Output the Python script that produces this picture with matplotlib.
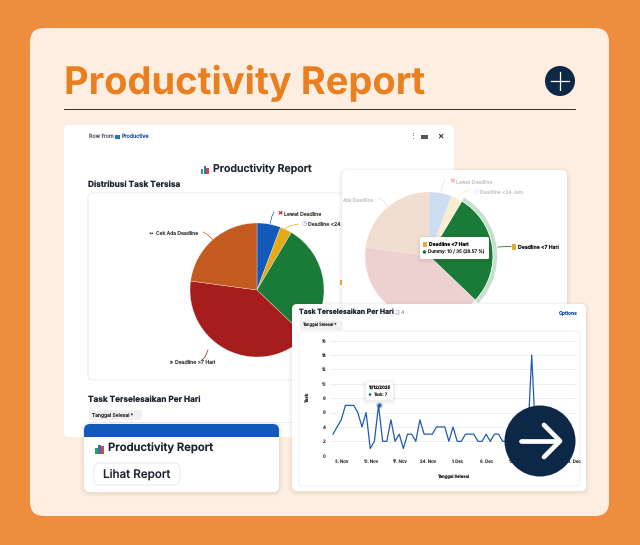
import matplotlib
matplotlib.use("Agg")
import matplotlib.pyplot as plt
import pandas as pd
from matplotlib.patches import FancyBboxPatch, Circle, Rectangle

plt.rcParams['font.family'] = ['Inter', 'DejaVu Sans']
plt.rcParams['text.hinting'] = 'no_hinting'

W, H = 640, 545
ORANGE_BG = '#ee8d3d'
CREAM = '#fdeee1'
TITLE = '#ea7f20'
NAVY = '#0d2747'
INK = '#1c2430'
GREY = '#5f6670'

pie_labels = ['Lewat Deadline', 'Deadline <24 Jam', 'Deadline <7 Hari', 'Deadline >7 Hari', 'Cek Ada Deadline']
pie_values = [2, 1, 10, 14, 8]
pie_colors = ['#1259b9', '#e3a917', '#1a7a37', '#a71c1c', '#c25b1d']

task_values = [3, 4, 5, 7, 7, 7, 6, 4, 6, 1, 2, 7, 2, 2, 5, 2, 3, 1, 3, 3, 2, 5, 3, 3, 3, 4, 4, 4,
               2, 4, 2, 2, 3, 3, 3, 2, 2, 3, 2, 3, 3, 2, 2, 2, 2, 2, 2, 2, 14, 2, 2, 1, 2, 2, 1, 2, 2, 1, 2]
task_dates = pd.date_range('2025-11-01', periods=len(task_values))
x_tick_dates = pd.date_range('2025-11-03', periods=9, freq='7D')
x_tick_labels = ['3. Nov', '10. Nov', '17. Nov', '24. Nov', '1. Dec', '8. Dec', '15. Dec', '22. Dec', '29. Dec']
y_ticks = [0, 2, 4, 6, 8, 10, 12, 14, 16]

fig = plt.figure(figsize=(W / 100, H / 100), dpi=100, facecolor=ORANGE_BG)


def layer(z):
    ax = fig.add_axes([0, 0, 1, 1], zorder=z)
    ax.set_xlim(0, W)
    ax.set_ylim(H, 0)
    ax.axis('off')
    return ax


def inset(x0, y0, x1, y1, z):
    return fig.add_axes([x0 / W, 1 - y1 / H, (x1 - x0) / W, (y1 - y0) / H], zorder=z)


def box(ax, x0, y0, x1, y1, r=6, fc='white', ec='none', lw=0.0, shadow=True, z=1):
    if shadow:
        for g, a in ((4, .012), (3, .016), (2, .02), (1, .025)):
            ax.add_patch(FancyBboxPatch((x0 - g, y0 - g + 1), x1 - x0 + 2 * g, y1 - y0 + 2 * g,
                                        boxstyle=f'round,pad=0,rounding_size={r + g}',
                                        fc='#503010', ec='none', alpha=a, zorder=z))
    ax.add_patch(FancyBboxPatch((x0, y0), x1 - x0, y1 - y0, boxstyle=f'round,pad=0,rounding_size={r}',
                                fc=fc, ec=ec, lw=lw, zorder=z + .1))


def chart_icon(ax, x, y, s=1.0, z=5):
    for dx, h, c in ((0, 6, '#2f9e58'), (3.3, 10, '#2f6fc4'), (6.6, 8, '#d8433a')):
        ax.add_patch(Rectangle((x + dx * s, y - h * s), 2.9 * s, h * s, fc=c, ec='none', zorder=z))


def pie_axes(cx, cy, r, z, span=1.25):
    a = inset(cx - r * span, cy - r * span, cx + r * span, cy + r * span, z)
    a.set_xlim(-span, span)
    a.set_ylim(-span, span)
    a.axis('off')
    return a


# ---------- base: page + card 1
L0 = layer(0)
box(L0, 30, 28, 609, 516, r=14, fc=CREAM, shadow=False)
L0.text(64, 83, 'Productivity Report', fontsize=27.4, fontweight='bold', color=TITLE, va='center', ha='left', zorder=3)
L0.plot([64, 575], [109, 109], color='#2a2a2a', lw=0.7, zorder=3)
L0.add_patch(Circle((560, 81), 15, fc=NAVY, ec='none', zorder=3))
L0.plot([551, 569], [81, 81], color='white', lw=0.9, zorder=4)
L0.plot([560, 560], [72, 90], color='white', lw=0.9, zorder=4)

box(L0, 64, 125, 454, 437, r=5)
L0.text(89, 136.5, 'Row from', fontsize=3.9, color=GREY, va='center', zorder=3)
L0.text(122, 136.5, 'Productive', fontsize=3.9, color='#1f5aa8', va='center', zorder=3)
L0.add_patch(Rectangle((115, 134.5), 5, 4, fc='#2f6fc4', ec='none', zorder=3))
L0.text(413, 136, '⋮', fontsize=5, color='#333333', va='center', ha='center', family='DejaVu Sans', zorder=3)
L0.add_patch(Rectangle((421, 134.5), 7, 4, fc='#555555', ec='none', zorder=3))
L0.text(440, 136, '×', fontsize=7, color='#333333', va='center', ha='center', zorder=3)
chart_icon(L0, 201, 174, .8)
L0.text(213, 169, 'Productivity Report', fontsize=7.6, fontweight='semibold', color=INK, va='center', zorder=3)
L0.text(88, 185, 'Distribusi Task Tersisa', fontsize=5.95, fontweight='bold', color=INK, va='center', zorder=3)
box(L0, 88, 193, 440, 380, r=4, ec='#e8e8e8', lw=0.6, shadow=False)
L0.text(88, 400, 'Task Terselesaikan Per Hari', fontsize=5.95, fontweight='bold', color=INK, va='center', zorder=3)
box(L0, 89, 410, 142, 420, r=2.5, fc='#f1f1f1', shadow=False)
L0.text(92, 415, 'Tanggal Selesai ˅', fontsize=3.6, color='#333333', va='center', zorder=3)
L0.plot([88, 440], [421.5, 421.5], color='#e8e8e8', lw=0.6, zorder=3)

# pie 1 labels and leaders
for xs, ys, c in (([270, 272, 274], [224, 216, 212], pie_colors[0]),
                  ([283, 290, 298], [230, 226, 224], pie_colors[1]),
                  ([203, 208, 213], [232, 235, 240], pie_colors[4]),
                  ([208, 205, 201], [350, 357, 361], pie_colors[3])):
    L0.plot(xs, ys, color=c, lw=0.5, zorder=3)
L0.text(277, 213.5, '✖', fontsize=4.5, color='#d9232e', va='center', ha='left', family='DejaVu Sans', zorder=3)
L0.text(284, 214, pie_labels[0], fontsize=3.7, color='#444444', va='center', zorder=3)
L0.text(302, 224, '◷', fontsize=4.5, color='#5a8fc0', va='center', family='DejaVu Sans', zorder=3)
L0.text(308, 224, pie_labels[1], fontsize=3.7, color='#444444', va='center', zorder=3)
L0.text(149, 233, '••', fontsize=3.6, color='#444444', va='center', zorder=3)
L0.text(156, 233, pie_labels[4], fontsize=3.6, color='#444444', va='center', zorder=3)
L0.text(169, 362, '»', fontsize=3.7, color='#444444', va='center', zorder=3)
L0.text(175, 362, pie_labels[3], fontsize=3.7, color='#444444', va='center', zorder=3)
L0.add_patch(Rectangle((340, 280), 4, 5, fc='#e8a93a', ec='none', zorder=3))

p1 = pie_axes(257, 290, 67, 1)
p1.pie(pie_values, colors=pie_colors, startangle=90, counterclock=False, radius=1,
       wedgeprops=dict(edgecolor='white', linewidth=0.2))

# ---------- card 2 (highlighted pie)
L2 = layer(2)
box(L2, 342, 170, 567, 312, r=6)
L2.text(449, 181.5, '✖', fontsize=5, color='#f2b6b6', va='center', family='DejaVu Sans', zorder=3)
L2.text(456, 182, pie_labels[0], fontsize=3.6, color='#c9c9c9', va='center', zorder=3)
L2.text(474, 191.5, '◷', fontsize=4.5, color='#d5dde5', va='center', family='DejaVu Sans', zorder=3)
L2.text(480, 192, pie_labels[1], fontsize=3.6, color='#c9c9c9', va='center', zorder=3)
L2.text(342, 200, 'Ada Deadline', fontsize=3.6, color='#c9c9c9', va='center', zorder=3)
L2.plot([378, 384, 387], [198, 201, 207], color='#eadfd8', lw=0.5, zorder=3)
L2.plot([441, 442, 445], [192, 186, 180], color='#d8e3f0', lw=0.5, zorder=3)
L2.plot([459, 464, 470], [195, 192, 190], color='#f7e9c8', lw=0.5, zorder=3)
L2.plot([498, 507, 511], [247, 246.5, 246.5], color=pie_colors[2], lw=0.6, zorder=3)
L2.add_patch(Rectangle((511.5, 244), 4.5, 5.5, fc='#e8a93a', ec='none', zorder=3))
L2.text(518, 247, pie_labels[2], fontsize=3.7, fontweight='semibold', color='#222222', va='center', zorder=3)

p2 = pie_axes(429, 256, 64, 3)
p2.pie(pie_values, startangle=90, counterclock=False, radius=1.065,
       colors=['none', 'none', '#c6e0cd', 'none', 'none'])
wedges, _ = p2.pie(pie_values, colors=pie_colors, startangle=90, counterclock=False, radius=1,
                   wedgeprops=dict(edgecolor='white', linewidth=0.6))
for i, w in enumerate(wedges):
    if i != 2:
        w.set_alpha(0.2)

L3 = layer(4)
box(L3, 420, 237, 489, 259, r=1.5)
L3.add_patch(Rectangle((423, 241.5), 4, 5, fc='#e8a93a', ec='none', zorder=3))
L3.text(429, 244, pie_labels[2], fontsize=3.55, fontweight='bold', color='#111111', va='center', zorder=3)
L3.add_patch(Circle((424.5, 252), 1.8, fc=pie_colors[2], ec='none', zorder=3))
L3.text(428, 252, 'Dummy: 10 / 35 (28.57 %)', fontsize=3.3, color='#222222', va='center', zorder=3)

# ---------- card 3 (line chart)
box(L3, 292, 304, 586, 491, r=5)
L3.text(299, 312, 'Task Terselesaikan Per Hari', fontsize=5.0, fontweight='bold', color=INK, va='center', zorder=3)
L3.text(395, 312, '❏ 4', fontsize=3.6, color='#666666', va='center', family=['DejaVu Sans'], zorder=3)
L3.text(559, 313, 'Options', fontsize=3.6, fontweight='semibold', color='#1f5aa8', va='center', zorder=3)
box(L3, 300, 320.5, 343, 330, r=2.5, fc='#f1f1f1', shadow=False)
L3.text(302, 325, 'Tanggal Selesai ˅', fontsize=3.0, color='#333333', va='center', zorder=3)
box(L3, 299, 331, 580, 486, r=3, ec='#ececec', lw=0.6, shadow=False)

lx = inset(330, 340.7, 576, 455.7, 5)
lx.patch.set_alpha(0)
lx.plot(task_dates, task_values, color='#1f5cb0', lw=0.9, solid_joinstyle='round', zorder=3)
sel = task_dates[11]
lx.scatter([sel], [task_values[11]], s=22, color='#1f5cb0', alpha=.3, zorder=4, lw=0)
lx.scatter([sel], [task_values[11]], s=7, color='#1f5cb0', zorder=5, lw=0)
lx.set_ylim(0, 16)
lx.set_xlim(task_dates[0] - pd.Timedelta(days=0.72), task_dates[0] + pd.Timedelta(days=58.7))
lx.set_yticks(y_ticks)
lx.set_yticklabels([str(v) for v in y_ticks], fontsize=3.2, color='#444444')
lx.set_xticks(x_tick_dates)
lx.set_xticklabels(x_tick_labels, fontsize=3.1, color='#444444')
lx.tick_params(length=0, pad=3)
lx.grid(axis='y', color='#ececec', lw=0.6)
lx.set_axisbelow(True)
for s in lx.spines.values():
    s.set_visible(False)
lx.set_ylabel('Task', fontsize=3.1, fontweight='semibold', color='#333333', labelpad=8)
lx.set_xlabel('Tanggal Selesai', fontsize=3.0, fontweight='semibold', color='#333333', labelpad=7)

# ---------- top overlay: tooltip, small card, arrow
L4 = layer(6)
box(L4, 366, 382, 393, 400, r=1.5)
L4.text(379.5, 388, '11/12/2025', fontsize=3.1, fontweight='semibold', color='#222222', va='center', ha='center', zorder=3)
L4.add_patch(Circle((370, 394.5), 1.3, fc='#1f5cb0', ec='none', zorder=3))
L4.text(373, 394.5, 'Task: 7', fontsize=3.0, color='#333333', va='center', zorder=3)

box(L4, 84, 424, 279, 492, r=6)
L4.add_patch(FancyBboxPatch((84, 424), 195, 18, boxstyle='round,pad=0,rounding_size=6', fc='#1259b9', ec='none', zorder=2))
L4.add_patch(Rectangle((84, 437), 195, 6, fc='white', ec='none', zorder=2.1))
chart_icon(L4, 95, 454, .95)
L4.text(107.5, 448.5, 'Productivity Report', fontsize=8.1, fontweight='semibold', color=INK, va='center', zorder=3)
box(L4, 94, 463, 180, 485, r=6, ec='#e9e9e9', lw=0.7, shadow=False, z=2.5)
L4.text(137, 474, 'Lihat Report', fontsize=8.4, fontweight='medium', color=INK, va='center', ha='center', zorder=3)

L4.add_patch(Circle((540, 441), 35.5, fc=NAVY, ec='none', zorder=5))
L4.plot([521, 558], [441, 441], color='white', lw=3.4, solid_capstyle='round', zorder=6)
L4.plot([544, 560, 544], [425, 441, 457], color='white', lw=3.4, solid_capstyle='round', solid_joinstyle='round', zorder=6)

fig.savefig('out.png', dpi=100, facecolor=ORANGE_BG)
